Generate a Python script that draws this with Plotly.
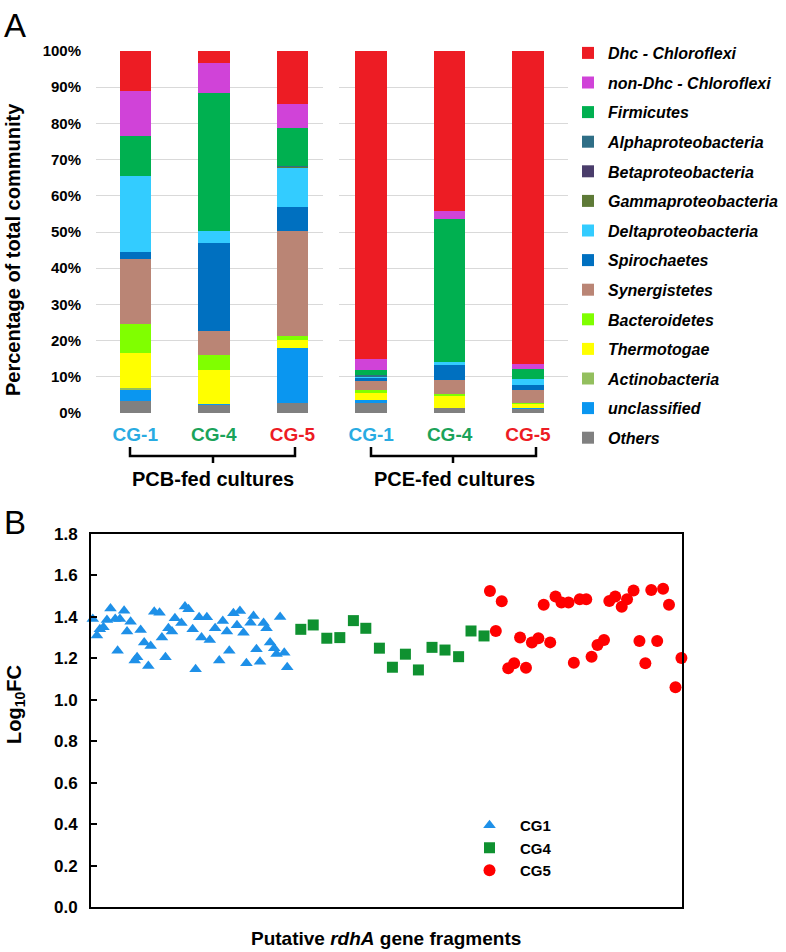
import plotly.graph_objects as go

W, H = 786, 952

def px(x):
    return x / W
def py(y):
    return 1 - y / H

FONT = "Liberation Sans, Arial, sans-serif"

# ---------------- Panel A data ----------------
categories = ["CG-1", "CG-4", "CG-5"]
category_colors = ["#29ABE2", "#1BA35A", "#ED1C24"]
group_labels = ["PCB-fed cultures", "PCE-fed cultures"]

# values (%) : [PCB CG-1, PCB CG-4, PCB CG-5, PCE CG-1, PCE CG-4, PCE CG-5]
others = [3.4, 2.3, 2.8, 2.9, 1.4, 1.2]
unclassified = [3.2, 0.3, 15.1, 0.7, 0.0, 0.3]
actinobacteria = [0.3, 0.0, 0.0, 0.0, 0.0, 0.0]
thermotogae = [9.8, 9.4, 2.3, 2.0, 3.5, 1.1]
bacteroidetes = [7.9, 4.1, 1.2, 0.7, 0.4, 0.3]
synergistetes = [18.0, 6.6, 29.0, 2.8, 3.7, 3.4]
spirochaetes = [1.8, 24.2, 6.5, 0.5, 4.2, 1.4]
deltaproteobacteria = [21.2, 3.5, 10.9, 0.6, 0.8, 1.8]
gammaproteobacteria = [0.0, 0.0, 0.2, 0.0, 0.0, 0.0]
betaproteobacteria = [0.0, 0.0, 0.0, 0.0, 0.0, 0.0]
alphaproteobacteria = [0.0, 0.0, 0.3, 0.2, 0.0, 0.0]
firmicutes = [10.8, 37.9, 10.3, 1.5, 39.6, 2.7]
non_dhc_chloroflexi = [12.5, 8.3, 6.7, 2.9, 2.3, 1.4]
dhc_chloroflexi = [11.1, 3.4, 14.7, 85.2, 44.1, 86.4]

# stacking order: bottom -> top
taxa = [
    ("Others", others, "#808080"),
    ("unclassified", unclassified, "#0A96F0"),
    ("Actinobacteria", actinobacteria, "#93BF5E"),
    ("Thermotogae", thermotogae, "#FFFF00"),
    ("Bacteroidetes", bacteroidetes, "#80FF00"),
    ("Synergistetes", synergistetes, "#BA8575"),
    ("Spirochaetes", spirochaetes, "#0070C0"),
    ("Deltaproteobacteria", deltaproteobacteria, "#33CCFF"),
    ("Gammaproteobacteria", gammaproteobacteria, "#5E7A37"),
    ("Betaproteobacteria", betaproteobacteria, "#4A3D6B"),
    ("Alphaproteobacteria", alphaproteobacteria, "#2F6E86"),
    ("Firmicutes", firmicutes, "#00B050"),
    ("non-Dhc - Chloroflexi", non_dhc_chloroflexi, "#D043D8"),
    ("Dhc - Chloroflexi", dhc_chloroflexi, "#ED1C24"),
]

# ---------------- Panel B data ----------------
cg1_x = [0.3, 1.0, 1.5, 2.1, 2.7, 3.3, 4.1, 4.5, 4.9, 5.6, 6.1, 6.7, 7.4, 7.8,
         8.4, 9.0, 9.7, 10.1, 10.7, 11.6, 12.0, 12.6, 13.1, 13.7, 14.2, 15.3,
         15.9, 16.5, 17.2, 17.7, 18.3, 18.7, 19.6, 20.1, 21.0, 21.7, 22.3,
         23.0, 23.4, 24.1, 24.7, 25.2, 25.8, 26.3, 27.0, 27.5, 28.0, 28.6,
         29.2, 29.7, 30.3, 31.0, 31.4, 32.0, 32.7, 33.2]
cg1_y = [1.39, 1.31, 1.34, 1.35, 1.385, 1.44, 1.39, 1.237, 1.39, 1.43, 1.33,
         1.377, 1.19, 1.205, 1.337, 1.276, 1.163, 1.26, 1.425, 1.42, 1.30,
         1.205, 1.345, 1.33, 1.393, 1.37, 1.45, 1.437, 1.34, 1.147, 1.398,
         1.30, 1.398, 1.289, 1.345, 1.19, 1.38, 1.33, 1.237, 1.417, 1.36,
         1.428, 1.324, 1.176, 1.372, 1.404, 1.244, 1.184, 1.37, 1.345, 1.276,
         1.249, 1.221, 1.40, 1.227, 1.157]

cg4_x = [35.5, 37.6, 39.9, 42.1, 44.4, 46.5, 48.8, 51.0, 53.2, 55.4, 57.7,
         59.9, 62.2, 64.3, 66.5]
cg4_y = [1.34, 1.361, 1.297, 1.30, 1.382, 1.345, 1.249, 1.157, 1.22, 1.144,
         1.253, 1.24, 1.208, 1.332, 1.308]

cg5_x = [67.5, 68.5, 69.5, 70.6, 71.6, 72.6, 73.6, 74.6, 75.7, 76.6, 77.7,
         78.6, 79.6, 80.8, 81.7, 82.7, 83.8, 84.7, 85.7, 86.8, 87.7, 88.7,
         89.8, 90.7, 91.8, 92.8, 93.8, 94.8, 95.8, 96.8, 97.8, 98.9, 99.9]
cg5_y = [1.525, 1.332, 1.475, 1.152, 1.176, 1.30, 1.155, 1.276, 1.297, 1.459,
         1.277, 1.498, 1.469, 1.469, 1.179, 1.485, 1.485, 1.208, 1.264, 1.289,
         1.477, 1.498, 1.449, 1.485, 1.527, 1.284, 1.176, 1.530, 1.284, 1.536,
         1.459, 1.06, 1.202]

fig = go.Figure()

n_taxa = len(taxa)
for i, (name, vals, color) in enumerate(taxa):
    label = "<b><i>%s</i></b>" % name
    rank = n_taxa - i
    fig.add_trace(go.Bar(
        x=categories, y=vals[:3], name=label, marker_color=color,
        marker_line_width=0, legendgroup=name, legendrank=rank,
        xaxis="x", yaxis="y", legend="legend", hoverinfo="y+name"))
    fig.add_trace(go.Bar(
        x=categories, y=vals[3:], name=label, marker_color=color,
        marker_line_width=0, legendgroup=name, legendrank=rank,
        showlegend=False, xaxis="x2", yaxis="y2", hoverinfo="y+name"))

fig.add_trace(go.Scatter(
    x=cg1_x, y=cg1_y, mode="markers", name="<b>CG1</b>",
    marker=dict(symbol="triangle-up", size=11, color="#1E90E8"),
    xaxis="x3", yaxis="y3", legend="legend2", cliponaxis=False))
fig.add_trace(go.Scatter(
    x=cg4_x, y=cg4_y, mode="markers", name="<b>CG4</b>",
    marker=dict(symbol="square", size=11, color="#0F9130"),
    xaxis="x3", yaxis="y3", legend="legend2", cliponaxis=False))
fig.add_trace(go.Scatter(
    x=cg5_x, y=cg5_y, mode="markers", name="<b>CG5</b>",
    marker=dict(symbol="circle", size=12, color="#FF0000"),
    xaxis="x3", yaxis="y3", legend="legend2", cliponaxis=False))

tick_text = ["<span style='color:%s'><b>%s</b></span>" % (c, t)
             for t, c in zip(categories, category_colors)]

yA = [py(413), py(51)]
common_y = dict(range=[0, 100], dtick=10, showgrid=True, gridcolor="#D9D9D9",
                gridwidth=1, zeroline=False, showline=False, fixedrange=True)
common_x = dict(type="category", showgrid=False, zeroline=False,
                showline=False, ticks="", tickvals=categories,
                ticktext=tick_text, ticklabelstandoff=8,
                tickfont=dict(size=19, family=FONT))

annotations = [
    dict(text="A", x=px(15), y=py(25), showarrow=False,
         font=dict(size=33, family=FONT, color="black")),
    dict(text="B", x=px(15), y=py(522), showarrow=False,
         font=dict(size=33, family=FONT, color="black")),
    dict(text="<b>Percentage of total community</b>", textangle=-90,
         x=px(13), y=py(250), showarrow=False,
         font=dict(size=20, family=FONT, color="black")),
    dict(text="<b>%s</b>" % group_labels[0], x=px(213), y=py(479),
         showarrow=False, font=dict(size=20, family=FONT, color="black")),
    dict(text="<b>%s</b>" % group_labels[1], x=px(454), y=py(479),
         showarrow=False, font=dict(size=20, family=FONT, color="black")),
    dict(text="<b>Log<sub>10</sub>FC</b>", textangle=-90,
         x=px(15), y=py(705), showarrow=False,
         font=dict(size=20, family=FONT, color="black")),
    dict(text="<b>Putative <i>rdhA</i> gene fragments</b>",
         x=px(386), y=py(938), showarrow=False,
         font=dict(size=19, family=FONT, color="black")),
]
for a in annotations:
    a.update(xref="paper", yref="paper", xanchor="center", yanchor="middle")

shapes = []
for (x0, x1, xc) in [(130, 295, 213), (371, 536, 453)]:
    line = dict(color="black", width=2.5)
    shapes.append(dict(type="path", xref="paper", yref="paper",
                       path="M %f %f L %f %f L %f %f L %f %f" % (
                           px(x0), py(447), px(x0), py(456),
                           px(x1), py(456), px(x1), py(447)),
                       line=line))
    shapes.append(dict(type="line", xref="paper", yref="paper",
                       x0=px(xc), x1=px(xc), y0=py(456), y1=py(463),
                       line=line))

fig.update_layout(
    width=W, height=H,
    margin=dict(l=0, r=0, t=0, b=0, autoexpand=False),
    paper_bgcolor="white", plot_bgcolor="white",
    barmode="stack", bargap=0.6,
    font=dict(family=FONT, color="black"),
    xaxis=dict(domain=[px(96), px(323)], range=[-0.5, 2.39], anchor="y",
               **common_x),
    yaxis=dict(domain=yA, anchor="x", ticksuffix="%", ticklabelstandoff=14,
               tickfont=dict(size=15, family=FONT, color="black", weight="bold"),
               **common_y),
    xaxis2=dict(domain=[px(339), px(568)], range=[-0.41, 2.51], anchor="y2",
                **common_x),
    yaxis2=dict(domain=yA, anchor="x2", showticklabels=False, **common_y),
    xaxis3=dict(domain=[px(91), px(682)], range=[0, 100], anchor="y3",
                showgrid=False, zeroline=False, showticklabels=False,
                ticks="", showline=True, linecolor="black", linewidth=2,
                mirror=True, fixedrange=True),
    yaxis3=dict(domain=[py(907), py(534)], range=[0, 1.8], dtick=0.2,
                tickformat=".1f", anchor="x3", showgrid=False, zeroline=False,
                ticks="inside", ticklen=6, tickwidth=1.5, tickcolor="black",
                showline=True, linecolor="black", linewidth=2, mirror=True,
                ticklabelstandoff=8, fixedrange=True,
                tickfont=dict(size=17, family=FONT, color="black", weight="bold")),
    legend=dict(x=px(568), y=py(36), xanchor="left", yanchor="top",
                traceorder="grouped", tracegroupgap=5.8,
                font=dict(size=16, family=FONT, color="black"),
                bgcolor="rgba(0,0,0,0)", itemclick=False, itemdoubleclick=False),
    legend2=dict(x=px(459), y=py(809), xanchor="left", yanchor="top",
                 itemwidth=51,
                 font=dict(size=15, family=FONT, color="black"),
                 bgcolor="rgba(0,0,0,0)", tracegroupgap=0),
    annotations=annotations,
    shapes=shapes,
)

fig.write_html("out.html",
               config={"displayModeBar": False},
               post_script="document.body.style.margin='0';"
                           "document.body.style.padding='0';")
